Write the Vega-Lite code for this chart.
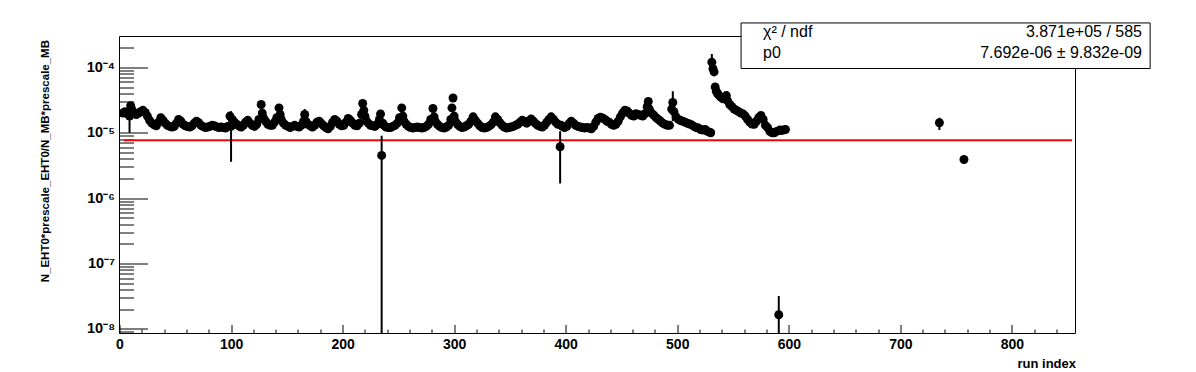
{
  "$schema": "https://vega.github.io/schema/vega-lite/v6.json",
  "width": 956,
  "height": 297,
  "autosize": {"type": "none"},
  "padding": {"left": 119.5, "top": 36.5, "right": 120.5, "bottom": 38.5},
  "background": "white",
  "config": {"view": {"stroke": null}, "font": "Liberation Sans", "axis": {"labelOverlap": false, "labelFlush": false, "labelBound": false}},
  "data": {"values": [{}]},
  "datasets": {
    "runs": [
      {"i":3,"v":2e-5},{"i":5,"v":2.1e-5},{"i":7,"v":1.95e-5},{"i":9,"v":1.8e-5,"lo":1e-5,"hi":2.6e-5},{"i":10,"v":2.6e-5},{"i":11,"v":2.3e-5},{"i":13,"v":2e-5},{"i":15,"v":1.9e-5},{"i":17,"v":2e-5},{"i":19,"v":2.1e-5},{"i":21,"v":2.2e-5},{"i":23,"v":2.05e-5},{"i":25,"v":1.8e-5},{"i":27,"v":1.55e-5},{"i":29,"v":1.4e-5},{"i":31,"v":1.32e-5},{"i":33,"v":1.28e-5},{"i":35,"v":1.45e-5},{"i":37,"v":1.7e-5},{"i":39,"v":1.55e-5},{"i":41,"v":1.4e-5},{"i":43,"v":1.3e-5},{"i":45,"v":1.25e-5},{"i":47,"v":1.22e-5},{"i":49,"v":1.25e-5},
      {"i":51,"v":1.4e-5},{"i":53,"v":1.6e-5},{"i":55,"v":1.5e-5},{"i":57,"v":1.35e-5},{"i":59,"v":1.28e-5},{"i":61,"v":1.24e-5},{"i":63,"v":1.22e-5},{"i":65,"v":1.28e-5},{"i":67,"v":1.4e-5},{"i":69,"v":1.5e-5},{"i":71,"v":1.42e-5},{"i":73,"v":1.3e-5},{"i":75,"v":1.24e-5},{"i":77,"v":1.2e-5},{"i":79,"v":1.22e-5},{"i":81,"v":1.25e-5},{"i":83,"v":1.3e-5},{"i":85,"v":1.28e-5},{"i":87,"v":1.23e-5},{"i":89,"v":1.2e-5},{"i":91,"v":1.22e-5},{"i":93,"v":1.2e-5},{"i":95,"v":1.18e-5},{"i":97,"v":1.25e-5},{"i":99,"v":1.8e-5},
      {"i":100,"v":1.25e-5,"lo":3.6e-6,"hi":2.14e-5},{"i":101,"v":1.6e-5},{"i":103,"v":1.45e-5},{"i":105,"v":1.35e-5},{"i":107,"v":1.28e-5},{"i":109,"v":1.22e-5},{"i":111,"v":1.3e-5},{"i":113,"v":1.45e-5},{"i":115,"v":1.55e-5},{"i":117,"v":1.4e-5},{"i":119,"v":1.3e-5},{"i":121,"v":1.25e-5},{"i":123,"v":1.35e-5},{"i":125,"v":1.6e-5},{"i":127,"v":2.7e-5},{"i":128,"v":2e-5},{"i":129,"v":1.7e-5},{"i":131,"v":1.5e-5},{"i":133,"v":1.35e-5},{"i":135,"v":1.3e-5},{"i":137,"v":1.3e-5},{"i":139,"v":1.45e-5},{"i":141,"v":1.7e-5},{"i":143,"v":2.4e-5},{"i":144,"v":1.9e-5},{"i":145,"v":1.6e-5},{"i":147,"v":1.4e-5},{"i":149,"v":1.3e-5},
      {"i":151,"v":1.25e-5},{"i":153,"v":1.2e-5},{"i":155,"v":1.25e-5},{"i":157,"v":1.3e-5},{"i":159,"v":1.25e-5},{"i":161,"v":1.22e-5},{"i":163,"v":1.3e-5},{"i":165,"v":1.5e-5},{"i":166,"v":1.9e-5,"lo":1.5e-5,"hi":2.3e-5},{"i":167,"v":1.5e-5},{"i":169,"v":1.35e-5},{"i":171,"v":1.28e-5},{"i":173,"v":1.22e-5},{"i":175,"v":1.3e-5},{"i":177,"v":1.45e-5},{"i":179,"v":1.5e-5},{"i":181,"v":1.38e-5},{"i":183,"v":1.28e-5},{"i":185,"v":1.2e-5},{"i":187,"v":1.15e-5},{"i":189,"v":1.25e-5},{"i":191,"v":1.45e-5},{"i":193,"v":1.6e-5},{"i":195,"v":1.5e-5},{"i":197,"v":1.35e-5},{"i":199,"v":1.28e-5},
      {"i":201,"v":1.3e-5},{"i":203,"v":1.45e-5},{"i":205,"v":1.65e-5},{"i":207,"v":1.55e-5},{"i":209,"v":1.4e-5},{"i":211,"v":1.3e-5},{"i":213,"v":1.28e-5},{"i":215,"v":1.4e-5},{"i":217,"v":1.9e-5},{"i":218,"v":2.8e-5},{"i":219,"v":2.2e-5},{"i":220,"v":1.8e-5},{"i":221,"v":1.55e-5},{"i":223,"v":1.4e-5},{"i":225,"v":1.3e-5},{"i":227,"v":1.28e-5},{"i":229,"v":1.25e-5},{"i":231,"v":1.35e-5},{"i":233,"v":1.6e-5},{"i":234,"v":1.94e-5},{"i":235,"v":4.5e-6,"lo":1e-10,"hi":9e-6},{"i":236,"v":1.4e-5},{"i":237,"v":1.3e-5},{"i":239,"v":1.22e-5},{"i":241,"v":1.2e-5},{"i":243,"v":1.2e-5},{"i":245,"v":1.25e-5},{"i":247,"v":1.3e-5},{"i":249,"v":1.4e-5},
      {"i":251,"v":1.7e-5},{"i":253,"v":2.4e-5},{"i":254,"v":1.8e-5},{"i":255,"v":1.5e-5},{"i":257,"v":1.35e-5},{"i":259,"v":1.25e-5},{"i":261,"v":1.2e-5},{"i":263,"v":1.18e-5},{"i":265,"v":1.2e-5},{"i":267,"v":1.22e-5},{"i":269,"v":1.2e-5},{"i":271,"v":1.18e-5},{"i":273,"v":1.2e-5},{"i":275,"v":1.25e-5},{"i":277,"v":1.35e-5},{"i":279,"v":1.6e-5},{"i":281,"v":2.35e-5},{"i":282,"v":1.75e-5},{"i":283,"v":1.5e-5},{"i":285,"v":1.35e-5},{"i":287,"v":1.25e-5},{"i":289,"v":1.2e-5},{"i":291,"v":1.18e-5},{"i":293,"v":1.22e-5},{"i":295,"v":1.3e-5},{"i":297,"v":1.6e-5},{"i":298,"v":2.4e-5},{"i":299,"v":3.4e-5},
      {"i":300,"v":1.8e-5},{"i":301,"v":1.5e-5},{"i":303,"v":1.35e-5},{"i":305,"v":1.25e-5},{"i":307,"v":1.2e-5},{"i":309,"v":1.22e-5},{"i":311,"v":1.28e-5},{"i":313,"v":1.35e-5},{"i":315,"v":1.5e-5},{"i":317,"v":1.75e-5},{"i":319,"v":1.55e-5},{"i":321,"v":1.4e-5},{"i":323,"v":1.28e-5},{"i":325,"v":1.2e-5},{"i":327,"v":1.18e-5},{"i":329,"v":1.2e-5},{"i":331,"v":1.25e-5},{"i":333,"v":1.32e-5},{"i":335,"v":1.45e-5},{"i":337,"v":1.75e-5},{"i":339,"v":1.6e-5},{"i":341,"v":1.42e-5},{"i":343,"v":1.3e-5},{"i":345,"v":1.22e-5},{"i":347,"v":1.18e-5},{"i":349,"v":1.2e-5},
      {"i":351,"v":1.22e-5},{"i":353,"v":1.25e-5},{"i":355,"v":1.3e-5},{"i":357,"v":1.35e-5},{"i":359,"v":1.45e-5},{"i":361,"v":1.55e-5},{"i":363,"v":1.5e-5},{"i":365,"v":1.4e-5},{"i":367,"v":1.5e-5},{"i":369,"v":1.63e-5},{"i":371,"v":1.5e-5},{"i":373,"v":1.38e-5},{"i":375,"v":1.3e-5},{"i":377,"v":1.25e-5},{"i":379,"v":1.22e-5},{"i":381,"v":1.3e-5},{"i":383,"v":1.45e-5},{"i":385,"v":1.6e-5},{"i":387,"v":1.75e-5},{"i":389,"v":1.6e-5},{"i":391,"v":1.45e-5},{"i":393,"v":1.35e-5},{"i":395,"v":6.1e-6,"lo":1.67e-6,"hi":1.05e-5},{"i":396,"v":1.3e-5},{"i":397,"v":1.25e-5},{"i":399,"v":1.2e-5},
      {"i":401,"v":1.25e-5},{"i":403,"v":1.38e-5},{"i":405,"v":1.5e-5},{"i":407,"v":1.4e-5},{"i":409,"v":1.3e-5},{"i":411,"v":1.25e-5},{"i":413,"v":1.22e-5},{"i":415,"v":1.2e-5},{"i":417,"v":1.18e-5},{"i":419,"v":1.2e-5},{"i":421,"v":1.18e-5},{"i":423,"v":1.15e-5},{"i":425,"v":1.25e-5},{"i":427,"v":1.45e-5},{"i":429,"v":1.65e-5},{"i":431,"v":1.72e-5},{"i":433,"v":1.68e-5},{"i":435,"v":1.6e-5},{"i":437,"v":1.5e-5},{"i":439,"v":1.45e-5},{"i":441,"v":1.35e-5},{"i":443,"v":1.3e-5},{"i":445,"v":1.35e-5},{"i":447,"v":1.5e-5},{"i":449,"v":1.75e-5},
      {"i":451,"v":2e-5},{"i":453,"v":2.2e-5},{"i":455,"v":2.15e-5},{"i":457,"v":2e-5},{"i":459,"v":1.85e-5},{"i":461,"v":1.8e-5},{"i":463,"v":1.95e-5},{"i":465,"v":1.9e-5},{"i":467,"v":1.85e-5},{"i":469,"v":1.8e-5},{"i":471,"v":1.95e-5},{"i":473,"v":2.5e-5},{"i":474,"v":3e-5},{"i":475,"v":2.3e-5},{"i":477,"v":2e-5},{"i":479,"v":1.85e-5},{"i":481,"v":1.7e-5},{"i":483,"v":1.6e-5},{"i":485,"v":1.5e-5},{"i":487,"v":1.4e-5},{"i":489,"v":1.35e-5},{"i":491,"v":1.3e-5},{"i":493,"v":1.3e-5},{"i":495,"v":2.3e-5},{"i":496,"v":2.9e-5,"lo":1.5e-5,"hi":4.3e-5},{"i":497,"v":2.1e-5},{"i":499,"v":1.75e-5},
      {"i":501,"v":1.6e-5},{"i":503,"v":1.54e-5},{"i":505,"v":1.5e-5},{"i":507,"v":1.45e-5},{"i":509,"v":1.4e-5},{"i":511,"v":1.36e-5},{"i":513,"v":1.32e-5},{"i":515,"v":1.25e-5},{"i":517,"v":1.2e-5},{"i":519,"v":1.18e-5},{"i":521,"v":1.12e-5},{"i":523,"v":1.1e-5},{"i":525,"v":1.12e-5},{"i":527,"v":1.05e-5},{"i":529,"v":1.02e-5},{"i":530,"v":1e-5},{"i":531,"v":1.2e-4,"lo":8e-5,"hi":1.6e-4},{"i":532,"v":9.5e-5},{"i":533,"v":8.5e-5},{"i":534,"v":5e-5},{"i":535,"v":4.3e-5},{"i":536,"v":4e-5},{"i":537,"v":3.8e-5},{"i":539,"v":3.5e-5},{"i":541,"v":3.3e-5},{"i":543,"v":3.5e-5},{"i":544,"v":3.7e-5,"lo":3.1e-5,"hi":4.3e-5},{"i":545,"v":3.1e-5},{"i":547,"v":2.7e-5},{"i":549,"v":2.5e-5},
      {"i":551,"v":2.3e-5},{"i":553,"v":2.2e-5},{"i":555,"v":2.1e-5},{"i":557,"v":2e-5},{"i":559,"v":1.94e-5},{"i":561,"v":1.8e-5},{"i":563,"v":1.6e-5},{"i":565,"v":1.45e-5},{"i":567,"v":1.36e-5},{"i":569,"v":1.35e-5},{"i":571,"v":1.5e-5},{"i":573,"v":1.7e-5},{"i":575,"v":1.84e-5},{"i":577,"v":1.6e-5},{"i":579,"v":1.3e-5},{"i":581,"v":1.2e-5},{"i":583,"v":1.05e-5},{"i":585,"v":1e-5},{"i":587,"v":1e-5},{"i":589,"v":1.05e-5},{"i":591,"v":1.65e-8,"lo":1e-10,"hi":3.2e-8},{"i":592,"v":1.1e-5},{"i":593,"v":1.08e-5},{"i":595,"v":1.1e-5},{"i":597,"v":1.12e-5},
      {"i":735,"v":1.42e-5,"lo":1.1e-5,"hi":1.7e-5},{"i":757,"v":3.9e-6}
    ]
  },
  "layer": [
    {
      "mark": {"type": "rect", "fill": null, "fillOpacity": 0, "stroke": "#000", "strokeWidth": 1, "clip": false},
      "encoding": {
        "x": {
          "datum": 0, "type": "quantitative",
          "scale": {"domain": [0, 857], "nice": false, "zero": false},
          "axis": {
            "title": "run index",
            "values": [0,20,40,60,80,100,120,140,160,180,200,220,240,260,280,300,320,340,360,380,400,420,440,460,480,500,520,540,560,580,600,620,640,660,680,700,720,740,760,780,800,820,840],
            "tickCount": 200,
            "domain": false, "grid": false,
            "tickColor": "#000", "tickWidth": 1,
            "tickSize": {"condition": {"test": "datum.value % 100 === 0", "value": -9}, "value": -4.5},
            "labelExpr": "datum.value % 100 === 0 ? datum.label : ''",
            "labelPadding": 13, "labelFlush": false, "labelOverlap": false,
            "labelFont": "Liberation Sans", "labelFontWeight": "bold", "labelFontSize": 14, "labelColor": "#000",
            "titleFont": "Liberation Sans", "titleFontWeight": "bold", "titleFontSize": 13, "titleColor": "#000",
            "titleAnchor": "end", "titleAlign": "right", "titleBaseline": "alphabetic", "titleX": 956, "titleY": 34
          }
        },
        "x2": {"datum": 857},
        "y": {
          "datum": 8.53e-9, "type": "quantitative",
          "scale": {"type": "log", "domain": [8.53e-9, 2.96e-4], "nice": false},
          "axis": {
            "title": "N_EHT0*prescale_EHT0/N_MB*prescale_MB",
            "values": [9e-9,1e-8,2e-8,3e-8,4e-8,5e-8,6e-8,7e-8,8e-8,9e-8,1e-7,2e-7,3e-7,4e-7,5e-7,6e-7,7e-7,8e-7,9e-7,1e-6,2e-6,3e-6,4e-6,5e-6,6e-6,7e-6,8e-6,9e-6,1e-5,2e-5,3e-5,4e-5,5e-5,6e-5,7e-5,8e-5,9e-5,1e-4,2e-4],
            "tickCount": 200,
            "domain": false, "grid": false,
            "tickColor": "#000", "tickWidth": 1,
            "tickSize": {"condition": {"test": "indexof([1e-8,1e-7,1e-6,1e-5,1e-4], datum.value) >= 0", "value": -28}, "value": -14},
            "labelExpr": "['10⁻⁸','10⁻⁷','10⁻⁶','10⁻⁵','10⁻⁴'][indexof([1e-8,1e-7,1e-6,1e-5,1e-4], datum.value)] || ''",
            "labelPadding": 33, "labelFlush": false, "labelOverlap": false,
            "labelFont": "Liberation Sans", "labelFontWeight": "bold", "labelFontSize": 14.5, "labelColor": "#000",
            "titleFont": "Liberation Sans", "titleFontWeight": "bold", "titleFontSize": 11.5, "titleColor": "#000",
            "titleAngle": 270, "titleAnchor": "end", "titleAlign": "right", "titleBaseline": "bottom", "titleX": -69, "titleY": 3
          }
        },
        "y2": {"datum": 2.96e-4}
      }
    },
    {
      "data": {"values": [{"x1": 4, "x2": 854, "p0": 7.692e-6}]},
      "mark": {"type": "rule", "color": "#ff0000", "strokeWidth": 2},
      "encoding": {
        "x": {"field": "x1", "type": "quantitative"},
        "x2": {"field": "x2"},
        "y": {"field": "p0", "type": "quantitative"}
      }
    },
    {
      "data": {"name": "runs"},
      "transform": [{"filter": "isValid(datum.lo)"}],
      "mark": {"type": "rule", "color": "#000", "strokeWidth": 2, "clip": true},
      "encoding": {
        "x": {"field": "i", "type": "quantitative"},
        "y": {"field": "lo", "type": "quantitative"},
        "y2": {"field": "hi"}
      }
    },
    {
      "data": {"name": "runs"},
      "mark": {"type": "circle", "size": 80, "color": "#000", "opacity": 1, "clip": true},
      "encoding": {
        "x": {"field": "i", "type": "quantitative"},
        "y": {"field": "v", "type": "quantitative"}
      }
    },
    {
      "mark": {"type": "rect", "fill": "#fff", "stroke": "#000", "strokeWidth": 1, "clip": false},
      "encoding": {
        "x": {"datum": 557.2, "type": "quantitative"},
        "x2": {"datum": 923.9},
        "y": {"datum": 4.77e-4, "type": "quantitative"},
        "y2": {"datum": 9.6e-5}
      }
    },
    {
      "mark": {"type": "text", "align": "left", "baseline": "alphabetic", "lineBreak": "\n", "lineHeight": 21, "font": "Liberation Sans", "fontSize": 16, "color": "#000", "clip": false},
      "encoding": {
        "x": {"datum": 576.9, "type": "quantitative"},
        "y": {"datum": 2.91e-4, "type": "quantitative"},
        "text": {"value": "χ² / ndf\np0"}
      }
    },
    {
      "mark": {"type": "text", "align": "right", "baseline": "alphabetic", "lineBreak": "\n", "lineHeight": 21, "font": "Liberation Sans", "fontSize": 16, "color": "#000", "clip": false},
      "encoding": {
        "x": {"datum": 916.6, "type": "quantitative"},
        "y": {"datum": 2.91e-4, "type": "quantitative"},
        "text": {"value": "3.871e+05 / 585\n7.692e-06 ± 9.832e-09"}
      }
    }
  ]
}
